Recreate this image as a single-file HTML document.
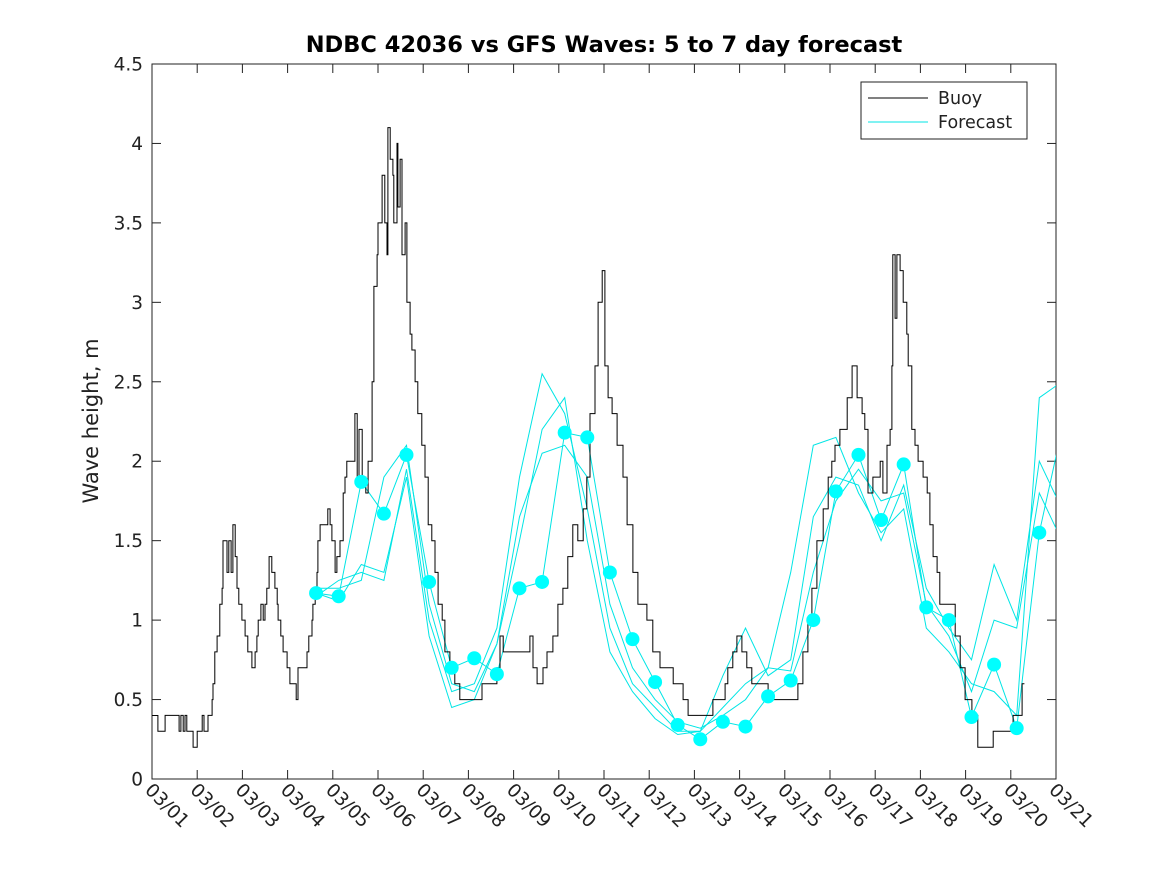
<!DOCTYPE html>
<html><head><meta charset="utf-8"><style>
body{margin:0;background:#fff;}
svg{display:block;font-family:"DejaVu Sans","Liberation Sans",sans-serif;}
</style></head><body>
<svg id="chart" width="1167" height="875" viewBox="0 0 1167 875">
<defs><clipPath id="clip"><rect x="152" y="64" width="904" height="715"/></clipPath></defs>
<rect x="0" y="0" width="1167" height="875" fill="#fff"/>
<text x="604" y="52" text-anchor="middle" font-size="22.5" font-weight="bold" fill="#000">NDBC 42036 vs GFS Waves: 5 to 7 day forecast</text>
<text transform="translate(98,421) rotate(-90)" text-anchor="middle" font-size="21" fill="#222">Wave height, m</text>
<g id="axes"></g>
<g id="plot" clip-path="url(#clip)"></g>
<g>
<rect x="861" y="82" width="166" height="57" fill="#fff" stroke="#222" stroke-width="1"/>
<line x1="868" y1="98" x2="928" y2="98" stroke="#000" stroke-width="1"/>
<text x="938" y="104" font-size="17.5" fill="#222">Buoy</text>
<line x1="868" y1="122" x2="928" y2="122" stroke="#00e5e5" stroke-width="1"/>
<text x="938" y="128" font-size="17.5" fill="#222">Forecast</text>
</g>
</svg>
<script>
const yTicks=[0,0.5,1,1.5,2,2.5,3,3.5,4,4.5];
const yTickLabels=["0","0.5","1","1.5","2","2.5","3","3.5","4","4.5"];
const xTickLabels=["03/01","03/02","03/03","03/04","03/05","03/06","03/07","03/08","03/09","03/10","03/11","03/12","03/13","03/14","03/15","03/16","03/17","03/18","03/19","03/20","03/21"];
// buoy: day offsets since 03/01 & heights (m)
const buoyDays=[0,0.13,0.29,0.6,0.64,0.69,0.73,0.77,0.91,1.0,1.11,1.15,1.24,1.33,1.35,1.39,1.44,1.5,1.55,1.57,1.66,1.7,1.75,1.79,1.84,1.88,1.92,1.99,2.06,2.12,2.21,2.28,2.32,2.35,2.41,2.46,2.5,2.54,2.59,2.65,2.72,2.77,2.79,2.85,2.9,2.99,3.05,3.19,3.23,3.43,3.47,3.54,3.56,3.61,3.65,3.67,3.72,3.89,3.94,3.98,4.05,4.09,4.16,4.23,4.27,4.31,4.45,4.49,4.54,4.58,4.65,4.73,4.78,4.87,4.91,4.98,5.0,5.09,5.15,5.2,5.22,5.27,5.33,5.35,5.42,5.44,5.49,5.53,5.6,5.64,5.71,5.75,5.82,5.88,5.97,6.04,6.11,6.19,6.26,6.33,6.42,6.48,6.59,6.7,6.81,7.3,7.63,7.7,7.77,8.36,8.43,8.52,8.65,8.74,8.87,8.98,9.09,9.2,9.31,9.42,9.54,9.62,9.69,9.8,9.87,9.96,10.02,10.09,10.18,10.29,10.42,10.51,10.64,10.75,10.95,11.08,11.24,11.53,11.75,11.86,12.41,12.68,12.74,12.85,12.94,13.05,13.16,13.27,13.63,14.29,14.4,14.51,14.6,14.71,14.85,14.96,15.04,15.11,15.22,15.38,15.49,15.6,15.71,15.77,15.84,15.95,16.11,16.17,16.26,16.33,16.37,16.39,16.44,16.48,16.55,16.62,16.7,16.73,16.81,16.88,16.95,17.06,17.15,17.21,17.28,17.37,17.43,17.77,17.88,17.99,18.14,18.27,18.61,19.05,19.25,19.3];
const buoyVals=[0.4,0.3,0.4,0.3,0.4,0.3,0.4,0.3,0.2,0.3,0.4,0.3,0.4,0.5,0.6,0.8,0.9,1.1,1.2,1.5,1.3,1.5,1.3,1.6,1.4,1.2,1.1,1.0,0.9,0.8,0.7,0.8,0.9,1.0,1.1,1.0,1.1,1.2,1.4,1.3,1.2,1.1,1.0,0.9,0.8,0.7,0.6,0.5,0.7,0.8,0.9,1.0,1.1,1.2,1.3,1.5,1.6,1.7,1.6,1.5,1.3,1.4,1.5,1.8,1.9,2.0,2.0,2.3,1.9,2.2,1.9,1.8,2.0,2.5,3.1,3.3,3.5,3.8,3.5,3.3,4.1,3.9,3.8,3.5,4.0,3.6,3.9,3.3,3.5,3.0,2.8,2.7,2.5,2.3,2.1,1.9,1.6,1.5,1.3,1.1,1.0,0.8,0.7,0.6,0.5,0.6,0.7,0.9,0.8,0.9,0.7,0.6,0.7,0.8,0.9,1.1,1.2,1.4,1.6,1.5,1.7,1.9,2.3,2.6,3.0,3.2,2.6,2.4,2.3,2.1,1.9,1.6,1.3,1.1,1.0,0.8,0.7,0.6,0.5,0.4,0.5,0.6,0.7,0.8,0.9,0.8,0.7,0.6,0.5,0.6,0.8,1.0,1.2,1.5,1.7,1.9,2.0,2.1,2.2,2.4,2.6,2.4,2.3,2.2,1.8,1.9,2.0,1.8,2.1,2.2,2.6,3.3,2.9,3.3,3.2,3.0,2.8,2.6,2.2,2.1,2.0,1.9,1.8,1.6,1.4,1.3,1.1,0.9,0.7,0.5,0.4,0.2,0.3,0.4,0.6,0.6];
// forecast: half-day grid starting at day 3.63
const fcStart=3.63;
const fcDots=[1.17,1.15,1.87,1.67,2.04,1.24,0.70,0.76,0.66,1.20,1.24,2.18,2.15,1.30,0.88,0.61,0.34,0.25,0.36,0.33,0.52,0.62,1.00,1.81,2.04,1.63,1.98,1.08,1.00,0.39,0.72,0.32,1.55,2.2];
const fcB=[1.15,1.25,1.30,1.25,1.95,1.00,0.55,0.60,0.95,1.90,2.55,2.30,1.70,0.95,0.60,0.45,0.30,0.30,0.45,0.60,0.70,1.30,2.10,2.15,1.80,1.55,1.70,0.95,0.80,0.60,0.55,0.40,2.40,2.50];
const fcC=[1.20,1.20,1.25,1.90,2.10,1.10,0.60,0.55,0.85,1.50,2.20,2.40,1.50,0.80,0.55,0.38,0.28,0.30,0.65,0.95,0.65,0.75,1.65,1.90,1.85,1.50,1.85,1.20,0.95,0.75,1.35,1.00,2.00,1.70];
const fcD=[1.17,1.12,1.35,1.30,1.90,0.90,0.45,0.50,0.85,1.65,2.05,2.10,1.90,1.10,0.70,0.50,0.36,0.32,0.40,0.50,0.70,0.68,1.30,1.75,1.95,1.75,1.80,1.10,0.90,0.55,1.00,0.95,1.80,1.50];

const X0=152,X1=1056,Y0=779,Y1=64;
const xs=d=>X0+(X1-X0)*d/20;
const ys=v=>Y0-(Y0-Y1)*v/4.5;
const NS="http://www.w3.org/2000/svg";
const axes=document.getElementById('axes'),plot=document.getElementById('plot');
function mk(tag,attrs,parent){const e=document.createElementNS(NS,tag);for(const k in attrs)e.setAttribute(k,attrs[k]);parent.appendChild(e);return e;}
const frame=mk('rect',{x:X0,y:Y1,width:X1-X0,height:Y0-Y1,fill:'none',stroke:'#222','stroke-width':1},axes);


yTicks.forEach((v,i)=>{
  const y=ys(v);
  mk('line',{x1:X0,y1:y,x2:X0+9,y2:y,stroke:'#222'},axes);
  mk('line',{x1:X1,y1:y,x2:X1-9,y2:y,stroke:'#222'},axes);
  const t=mk('text',{x:X0-9,y:y+6.5,'text-anchor':'end','font-size':18.5,fill:'#222'},axes);
  t.textContent=yTickLabels[i];
  
  
});
xTickLabels.forEach((l,i)=>{
  const x=xs(i);
  mk('line',{x1:x,y1:Y0,x2:x,y2:Y0-9,stroke:'#222'},axes);
  mk('line',{x1:x,y1:Y1,x2:x,y2:Y1+9,stroke:'#222'},axes);
  const t=mk('text',{transform:`translate(${x-8},${Y0+12}) rotate(45)`,'font-size':18.5,fill:'#222'},axes);
  t.textContent=l;
  
  
});
[fcB,fcC,fcD,fcDots].forEach((arr)=>{
  const d=arr.map((v,i)=>(i?'L':'M')+xs(fcStart+0.5*i).toFixed(1)+','+ys(v).toFixed(1)).join('');
  const p=mk('path',{d:d,fill:'none',stroke:'#00e5e5','stroke-width':1},plot);
  
  
});
let bd='M'+xs(buoyDays[0])+','+ys(buoyVals[0]);
for(let i=1;i<buoyDays.length;i++){bd+='H'+xs(buoyDays[i]).toFixed(1)+'V'+ys(buoyVals[i]).toFixed(1);}
const bp=mk('path',{d:bd,fill:'none',stroke:'#000','stroke-width':1},plot);


fcDots.slice(0,33).forEach((v,i)=>{
  const c=mk('circle',{cx:xs(fcStart+0.5*i),cy:ys(v),r:7,fill:'#00ffff'},plot);
  
  
});
</script>
</body></html>
